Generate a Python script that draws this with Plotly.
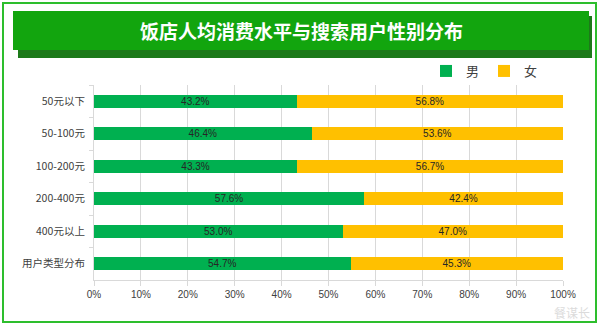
import plotly.graph_objects as go

categories = ["50元以下", "50-100元", "100-200元", "200-400元", "400元以上", "用户类型分布"]
male = [43.2, 46.4, 43.3, 57.6, 53.0, 54.7]
female = [56.8, 53.6, 56.7, 42.4, 47.0, 45.3]
x_ticks = [0, 10, 20, 30, 40, 50, 60, 70, 80, 90, 100]
title = "饭店人均消费水平与搜索用户性别分布"

W, H = 600, 325
L, R, T, B = 94, 37, 85, 45
pw, ph = W - L - R, H - T - B

def px(x):
    return (x - L) / pw

def py(y):
    return 1 - (y - T) / ph

fig = go.Figure()
fig.add_trace(go.Bar(
    y=categories, x=male, name="男", orientation="h",
    marker=dict(color="#00B050", line=dict(width=0)),
    text=[f"{v:.1f}%" for v in male], textposition="inside",
    insidetextanchor="middle",
    textfont=dict(size=10, color="#262626", family="Liberation Sans, Arial"),
))
fig.add_trace(go.Bar(
    y=categories, x=female, name="女", orientation="h",
    marker=dict(color="#FFC000", line=dict(width=0)),
    text=[f"{v:.1f}%" for v in female], textposition="inside",
    insidetextanchor="middle",
    textfont=dict(size=10, color="#262626", family="Liberation Sans, Arial"),
))

shapes = [
    dict(type="rect", xref="paper", yref="paper", x0=px(3), x1=px(596), y0=py(322), y1=py(3),
         line=dict(color="#2DBE2D", width=2), fillcolor="rgba(0,0,0,0)", layer="below"),
    dict(type="rect", xref="paper", yref="paper", x0=px(18), x1=px(592), y0=py(58), y1=py(16),
         line=dict(width=0), fillcolor="#1D7A1A", layer="below"),
    dict(type="rect", xref="paper", yref="paper", x0=px(13), x1=px(589), y0=py(50), y1=py(11),
         line=dict(width=0), fillcolor="#12A50E", layer="below"),
]

annotations = [
    dict(text="<b>" + title + "</b>", xref="paper", yref="paper", x=px(301), y=py(30), showarrow=False,
         xanchor="center", yanchor="middle",
         font=dict(size=19, color="white", family="Noto Sans CJK SC")),
    dict(text="餐谋长", xref="paper", yref="paper", x=px(572), y=py(312), showarrow=False,
         xanchor="center", yanchor="middle", opacity=0.35,
         font=dict(size=12, color="#9a9a9a", family="Noto Sans CJK SC")),
]

fig.update_layout(
    width=W, height=H,
    margin=dict(l=L, r=R, t=T, b=B),
    paper_bgcolor="white", plot_bgcolor="white",
    barmode="stack", bargap=0.6,
    uniformtext=dict(minsize=10, mode="show"),
    showlegend=True,
    legend=dict(orientation="h", x=px(426), y=py(56), xanchor="left", yanchor="top",
                font=dict(size=13, color="#404040", family="Noto Sans CJK SC"),
                itemwidth=30, traceorder="normal", bgcolor="rgba(0,0,0,0)"),
    shapes=shapes, annotations=annotations,
    font=dict(family="Noto Sans CJK SC"),
)
fig.update_xaxes(
    range=[0, 100], tickvals=x_ticks, ticktext=[f"{v}%" for v in x_ticks],
    showgrid=True, gridcolor="#D9D9D9", gridwidth=1,
    showline=True, linecolor="#D9D9D9", ticks="outside", ticklen=5, tickcolor="#D9D9D9",
    tickfont=dict(size=10, color="#404040", family="Liberation Sans, Arial"),
    zeroline=False, fixedrange=True,
)
fig.update_yaxes(
    autorange="reversed", showline=True, linecolor="#D9D9D9",
    ticks="outside", ticklen=4, tickcolor="#D9D9D9", tickson="boundaries",
    ticklabelstandoff=6,
    tickfont=dict(size=10.5, color="#404040", family="Noto Sans CJK SC"),
    showgrid=False, fixedrange=True,
)

fig.write_html("out.html")
